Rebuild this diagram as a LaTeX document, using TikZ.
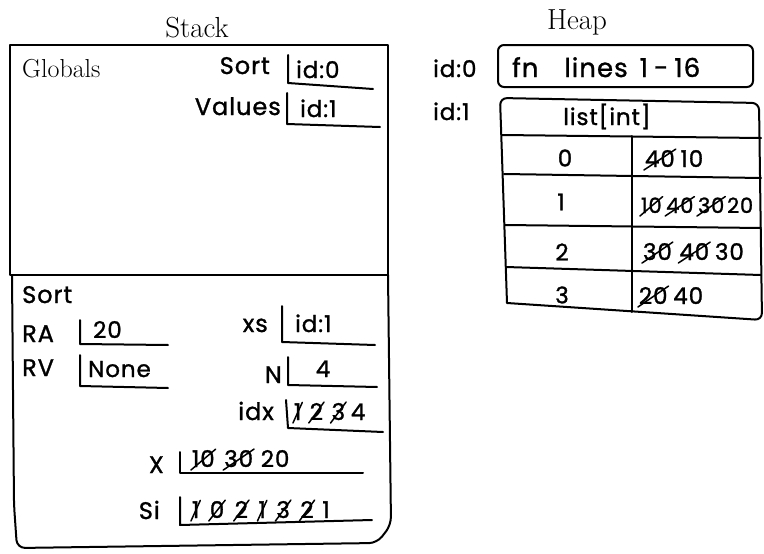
\documentclass[tikz,border=0pt]{standalone}
\usepackage{fontspec}
\newfontfamily\hwfont[FakeBold=1.2,LetterSpace=4]{Poppins}
\newcommand\strk[1]{\tikz[baseline=(s.base)]{\node[inner sep=0pt,outer sep=0pt](s){#1};\draw[line width=1.5pt,line cap=round]([xshift=-1pt,yshift=-3pt]s.south west)--([xshift=1pt,yshift=1pt]s.north east);}}
\begin{document}
\begin{tikzpicture}[x=1pt,y=-1pt,
  frame/.style={line width=2pt,line join=round,line cap=round},
  slot/.style={line width=2pt,line cap=round,line join=round},
  hw/.style={font=\hwfont\fontsize{24}{27}\selectfont,inner sep=0pt},
  hwv/.style={font=\hwfont\fontsize{23}{26}\selectfont,inner sep=0pt},
  hws/.style={font=\hwfont\fontsize{21}{24}\selectfont,inner sep=0pt},
  serif/.style={font=\fontsize{26}{30}\selectfont,inner sep=0pt},
  title/.style={font=\fontsize{29}{32}\selectfont,inner sep=0pt}]
\useasboundingbox (0,0) rectangle (764,554);

% titles
\node[title,anchor=base] (stackT) at (197,37) {Stack};
\node[title,anchor=base] (heapT) at (577,30) {Heap};

% stack frames
\draw[frame] (10,45) rectangle (388,275);
\draw[frame,rounded corners=8pt] (12,275) -- (14,505) -- (17,548) -- (377,543) -- (391,525) -- (388,275);

% globals
\node[serif,anchor=base west] (glob) at (22,77) {Globals};
\node[hw,anchor=base east] (gsort) at (270,74) {Sort};
\node[hwv,anchor=base west] (gsortv) at (296,78) {id:0};
\draw[slot] (288,55) -- (288,83) -- (373,89);
\node[hw,anchor=base east] (gvals) at (281,115) {Values};
\node[hwv,anchor=base west] (gvalsv) at (300,117) {id:1};
\draw[slot] (287,93) -- (287,124) -- (380,127);

% sort frame
\node[hw,anchor=base west] (fsort) at (22,303) {Sort};
\node[hw,anchor=base west] (ra) at (22,342) {RA};
\node[hwv,anchor=base west] (rav) at (93,338) {20};
\draw[slot] (80,320) -- (80,344) -- (168,345);
\node[hw,anchor=base west] (rv) at (22,376) {RV};
\node[hwv,anchor=base west] (rvv) at (88,377) {None};
\draw[slot] (80,355) -- (80,386) -- (168,388);
\node[hw,anchor=base east] (xs) at (268,332) {xs};
\node[hwv,anchor=base west] (xsv) at (295,332) {id:1};
\draw[slot] (282,306) -- (282,342) -- (375,345);
\node[hw,anchor=base east] (nn) at (282,383) {N};
\node[hwv,anchor=base] (nnv) at (323,377) {4};
\draw[slot] (288,357) -- (288,385) -- (377,387);
\node[hw,anchor=base east] (idx) at (274,420) {idx};
\node[hwv,anchor=base west] (idxv) at (292,420) {\strk{1}\hspace{5pt}\strk{2}\hspace{5pt}\strk{3}\hspace{4pt}4};
\draw[slot] (286,400) -- (288,428) -- (383,432);
\node[hw,anchor=base east] (xx) at (164,473) {X};
\node[hwv,anchor=base west] (xxv) at (190,467) {\strk{10}\hspace{6pt}\strk{30}\hspace{6pt}20};
\draw[slot] (180,452) -- (180,473) -- (363,473);
\node[hw,anchor=base east] (si) at (160,519) {Si};
\node[hwv,anchor=base west] (siv) at (190,518) {\strk{1}\hspace{7pt}\strk{0}\hspace{7pt}\strk{2}\hspace{7pt}\strk{1}\hspace{7pt}\strk{3}\hspace{7pt}\strk{2}\hspace{7pt}1};
\draw[slot] (180,497) -- (180,525) -- (372,520);

% heap
\node[hwv,anchor=base west] (hid0) at (433,77) {id:0};
\draw[frame,rounded corners=6pt] (498,45) rectangle (753,87);
\node[hw,font=\hwfont\fontsize{26}{29}\selectfont,anchor=base west] (fn) at (512,77) {fn\hspace{26pt}lines\hspace{12pt}1\hspace{6pt}-\hspace{6pt}16};
\node[hwv,anchor=base west] (hid1) at (433,120) {id:1};
\draw[frame,rounded corners=7pt] (507,303) -- (500,98) -- (759,103) -- (762,320) -- (507,303);
\node[hwv,anchor=base] (lst) at (607,125) {list[int]};
\draw[frame] (502,135) -- (761,138);
\draw[frame] (632,136) -- (632,312);
\draw[frame] (504,174) -- (761,178);
\draw[frame] (505,225) -- (761,228);
\draw[frame] (506,267) -- (761,275);
\node[hwv] (r0) at (565,158) {0};
\node[hwv] (r1) at (561,202) {1};
\node[hwv] (r2) at (562,252) {2};
\node[hwv] (r3) at (562,295) {3};
\node[hwv,anchor=base west] (v0) at (643,167) {\strk{40}\hspace{4pt}10};
\node[hws,anchor=base west] (v1) at (639,213) {\strk{10}\hspace{1pt}\strk{40}\hspace{1pt}\strk{30}\hspace{1pt}20};
\node[hwv,anchor=base west] (v2) at (641,260) {\strk{30}\hspace{4pt}\strk{40}\hspace{4pt}30};
\node[hwv,anchor=base west] (v3) at (637,304) {\strk{20}\hspace{4pt}40};
\end{tikzpicture}
\end{document}
